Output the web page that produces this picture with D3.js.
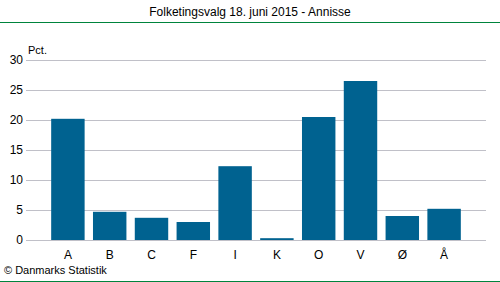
<!DOCTYPE html>
<html>
<head>
<meta charset="utf-8">
<script src="https://cdn.jsdelivr.net/npm/d3@7"></script>
<style>
  body { margin: 0; background: #fff; }
  svg text { font-family: "Liberation Sans", Arial, sans-serif; fill: #000; }
</style>
</head>
<body>
<svg id="chart" width="500" height="282"></svg>
<script>
const parties = ['A', 'B', 'C', 'F', 'I', 'K', 'O', 'V', 'Ø', 'Å']
const pct = [20.2, 4.7, 3.7, 3.0, 12.3, 0.3, 20.5, 26.5, 4.0, 5.2]
const yTicks = [0, 5, 10, 15, 20, 25, 30]

const svg = d3.select('#chart')
const width = 500
const height = 282

const x = d3.scaleBand()
    .domain(parties)
    .range([47, 465])
    .paddingInner(0.2)
    .paddingOuter(0.1)

const y = d3.scaleLinear()
    .domain([0, 30])
    .range([240, 60])

// title + green rules
svg.append('text')
    .attr('x', width / 2)
    .attr('y', 16)
    .attr('text-anchor', 'middle')
    .style('font-size', '12px')
    .text('Folketingsvalg 18. juni 2015 - Annisse')

svg.append('line')
    .attr('x1', 0).attr('x2', width)
    .attr('y1', 22.5).attr('y2', 22.5)
    .attr('stroke', '#00843d').attr('stroke-width', 1)

svg.append('line')
    .attr('x1', 0).attr('x2', width)
    .attr('y1', 281.5).attr('y2', 281.5)
    .attr('stroke', '#00843d').attr('stroke-width', 1)

// gridlines + y labels
const yAxis = d3.axisLeft(y)
    .tickValues(yTicks)
    .tickSize(-(486 - 26))
    .tickPadding(3)

const gy = svg.append('g')
    .attr('transform', 'translate(26,0)')
    .call(yAxis)
gy.select('.domain').remove()
gy.selectAll('.tick line').attr('stroke', '#c0c0c8')
gy.selectAll('.tick text')
    .style('font-size', '12px')
    .style('font-family', '"Liberation Sans", Arial, sans-serif')
    .attr('fill', '#000')

svg.append('text')
    .attr('x', 28)
    .attr('y', 54)
    .style('font-size', '11px')
    .text('Pct.')

// bars
svg.selectAll('rect.bar')
    .data(pct)
    .enter()
    .append('rect')
    .attr('class', 'bar')
    .attr('x', (d, i) => x(parties[i]))
    .attr('width', x.bandwidth())
    .attr('y', d => y(d))
    .attr('height', d => y(0) - y(d))
    .attr('fill', '#006290')

// x labels
const xAxis = d3.axisBottom(x).tickSize(0).tickPadding(10)
const gx = svg.append('g')
    .attr('transform', 'translate(0,240)')
    .call(xAxis)
gx.select('.domain').remove()
gx.selectAll('.tick text')
    .style('font-size', '12px')
    .style('font-family', '"Liberation Sans", Arial, sans-serif')
    .attr('fill', '#000')

svg.append('text')
    .attr('x', 4)
    .attr('y', 274)
    .style('font-size', '11px')
    .text('© Danmarks Statistik')
</script>
</body>
</html>
